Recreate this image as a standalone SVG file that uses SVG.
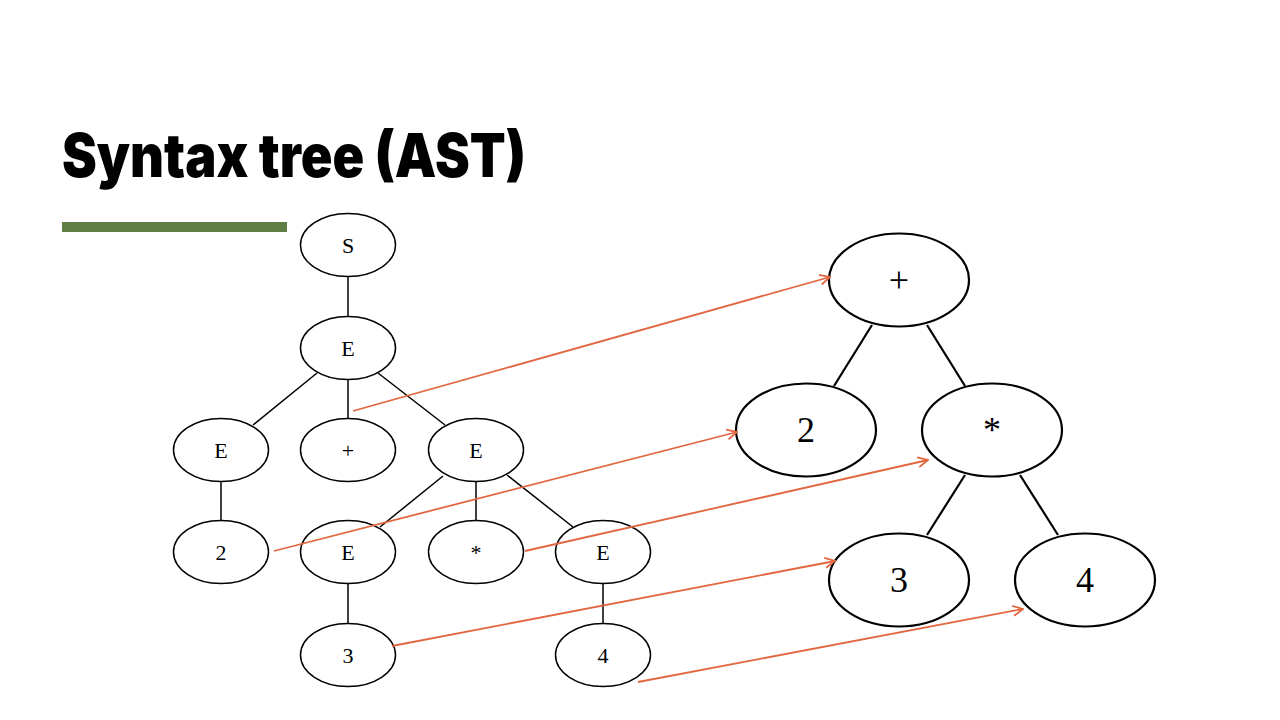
<svg xmlns="http://www.w3.org/2000/svg" width="1280" height="720" viewBox="0 0 1280 720">
<style>
.n{fill:#fff;stroke:#000;stroke-width:1.5}
.N{fill:#fff;stroke:#000;stroke-width:2.2}
.t{font-family:"Liberation Serif","Times New Roman",serif;font-size:22px;text-anchor:middle;fill:#000}
.T{font-family:"Liberation Serif","Times New Roman",serif;font-size:36px;text-anchor:middle;fill:#000}
.e{stroke:#000;stroke-width:1.5;fill:none}
.E{stroke:#000;stroke-width:2.2;fill:none}
.a{stroke:#E2663F;stroke-width:1.8;fill:none;marker-end:url(#ah)}
</style>
<defs>
<marker id="ah" viewBox="0 0 12 12" refX="11" refY="6" markerWidth="12" markerHeight="12" markerUnits="userSpaceOnUse" orient="auto">
<polyline points="1,1 11,6 1,11" fill="none" stroke="#E2663F" stroke-width="1.8"/>
</marker>
</defs>
<rect width="1280" height="720" fill="#fff"/>
<text x="62" y="177" font-family="Inter,'Liberation Sans',sans-serif" font-weight="900" font-size="60" textLength="464" lengthAdjust="spacingAndGlyphs" fill="#000">Syntax tree (AST)</text>
<rect x="62" y="222" width="225" height="10" fill="#5E7E44"/>
<g id="edges">
<line class="e" x1="348" y1="277" x2="348" y2="316"/>
<line class="e" x1="317" y1="373" x2="253" y2="425"/>
<line class="e" x1="348" y1="380" x2="348" y2="418"/>
<line class="e" x1="378" y1="373" x2="445" y2="425"/>
<line class="e" x1="221" y1="482" x2="221" y2="520"/>
<line class="e" x1="443" y1="476" x2="380" y2="527"/>
<line class="e" x1="476" y1="482" x2="476" y2="520"/>
<line class="e" x1="507" y1="475" x2="573" y2="527"/>
<line class="e" x1="348" y1="584" x2="348" y2="623"/>
<line class="e" x1="603" y1="584" x2="603" y2="623"/>
<line class="E" x1="872" y1="325" x2="834" y2="386"/>
<line class="E" x1="927" y1="325" x2="965" y2="386"/>
<line class="E" x1="965" y1="475" x2="927" y2="535"/>
<line class="E" x1="1020" y1="475" x2="1058" y2="535"/>
</g>
<g id="S"><ellipse class="n" cx="348" cy="245" rx="47.5" ry="31.5"/><text class="t" x="348" y="253">S</text></g>
<g id="E1"><ellipse class="n" cx="348" cy="348" rx="47.5" ry="31.5"/><text class="t" x="348" y="356">E</text></g>
<g id="E2"><ellipse class="n" cx="221" cy="450" rx="47.5" ry="31.5"/><text class="t" x="221" y="458">E</text></g>
<g id="plus1"><ellipse class="n" cx="348" cy="450" rx="47.5" ry="31.5"/><text class="t" x="348" y="458">+</text></g>
<g id="E3"><ellipse class="n" cx="476" cy="450" rx="47.5" ry="31.5"/><text class="t" x="476" y="458">E</text></g>
<g id="two1"><ellipse class="n" cx="221" cy="552" rx="47.5" ry="31.5"/><text class="t" x="221" y="560">2</text></g>
<g id="E4"><ellipse class="n" cx="348" cy="552" rx="47.5" ry="31.5"/><text class="t" x="348" y="560">E</text></g>
<g id="star1"><ellipse class="n" cx="476" cy="552" rx="47.5" ry="31.5"/><text class="t" x="476" y="560">*</text></g>
<g id="E5"><ellipse class="n" cx="603" cy="552" rx="47.5" ry="31.5"/><text class="t" x="603" y="560">E</text></g>
<g id="three1"><ellipse class="n" cx="348" cy="655" rx="47.5" ry="31.5"/><text class="t" x="348" y="663">3</text></g>
<g id="four1"><ellipse class="n" cx="603" cy="655" rx="47.5" ry="31.5"/><text class="t" x="603" y="663">4</text></g>
<g id="plus2"><ellipse class="N" cx="899" cy="280" rx="70" ry="46.5"/><text class="T" x="899" y="292">+</text></g>
<g id="two2"><ellipse class="N" cx="806" cy="430" rx="70" ry="46.5"/><text class="T" x="806" y="442">2</text></g>
<g id="star2"><ellipse class="N" cx="992" cy="430" rx="70" ry="46.5"/><text class="T" x="992" y="442">*</text></g>
<g id="three2"><ellipse class="N" cx="899" cy="580" rx="70" ry="46.5"/><text class="T" x="899" y="592">3</text></g>
<g id="four2"><ellipse class="N" cx="1085" cy="580" rx="70" ry="46.5"/><text class="T" x="1085" y="592">4</text></g>
<g id="arrows">
<line class="a" x1="353" y1="411" x2="830" y2="277"/>
<line class="a" x1="274" y1="551" x2="737" y2="432"/>
<line class="a" x1="525" y1="551" x2="928" y2="460"/>
<line class="a" x1="392" y1="646" x2="835" y2="561"/>
<line class="a" x1="638" y1="682" x2="1023" y2="609"/>
</g>
</svg>
